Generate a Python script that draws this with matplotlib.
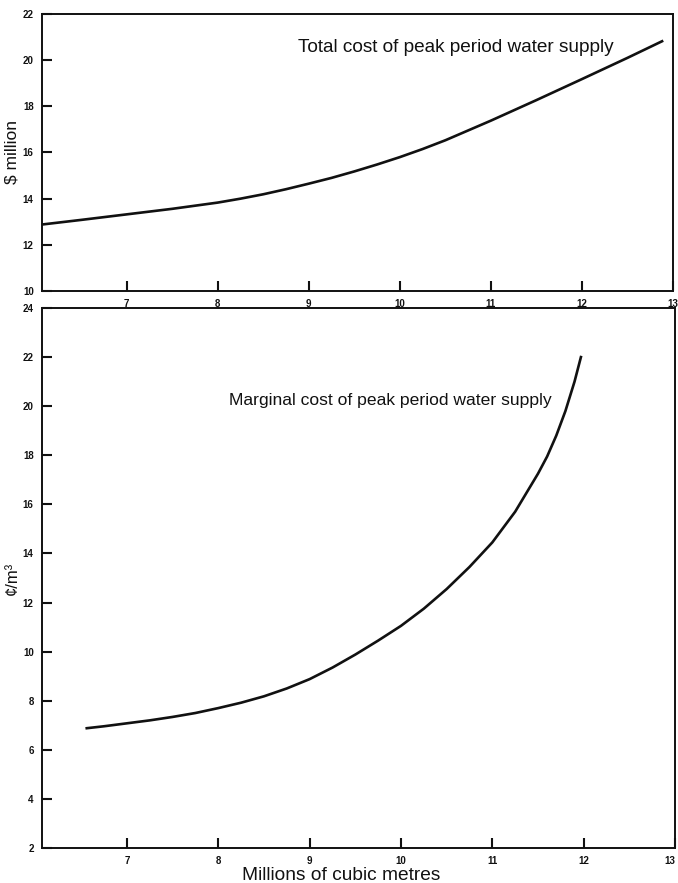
import matplotlib.pyplot as plt

# Values
x_total = [6.07, 6.5, 7.0, 7.5, 8.0, 8.25, 8.5, 8.75, 9.0, 9.25, 9.5, 9.75, 10.0,
           10.25, 10.5, 11.0, 11.5, 12.0, 12.5, 12.88]
y_total = [12.88, 13.08, 13.32, 13.56, 13.83, 14.0, 14.19, 14.41, 14.65, 14.9, 15.18,
           15.48, 15.8, 16.15, 16.53, 17.38, 18.27, 19.18, 20.1, 20.82]

x_marginal = [6.56, 6.75, 7.0, 7.25, 7.5, 7.75, 8.0, 8.25, 8.5, 8.75, 9.0, 9.25, 9.5,
              9.75, 10.0, 10.25, 10.5, 10.75, 11.0, 11.25, 11.5, 11.6, 11.7, 11.8,
              11.9, 11.97]
y_marginal = [6.88, 6.96, 7.08, 7.2, 7.34, 7.5, 7.7, 7.92, 8.18, 8.5, 8.88, 9.35, 9.88,
              10.45, 11.05, 11.75, 12.55, 13.45, 14.45, 15.7, 17.25, 17.95, 18.8, 19.8,
              21.0, 22.0]

x_ticks = [7, 8, 9, 10, 11, 12, 13]
top_yticks = [10, 12, 14, 16, 18, 20, 22]
bottom_yticks = [2, 4, 6, 8, 10, 12, 14, 16, 18, 20, 22, 24]

label_font = ['Liberation Sans', 'DejaVu Sans']
tick_font = ['Liberation Sans Narrow', 'Liberation Sans', 'DejaVu Sans']

W, H = 678, 883
fig = plt.figure(figsize=(W / 100, H / 100), dpi=100)

ax1 = fig.add_axes([42 / W, 1 - 291 / H, (673 - 42) / W, (291 - 14) / H])
ax2 = fig.add_axes([42 / W, 1 - 848 / H, (675 - 42) / W, (848 - 308) / H])

ax1.plot(x_total, y_total, color='#111111', lw=1.9, solid_joinstyle='round')
ax2.plot(x_marginal, y_marginal, color='#111111', lw=1.9, solid_joinstyle='round')

for ax, yt in [(ax1, top_yticks), (ax2, bottom_yticks)]:
    ax.set_xlim(6.07, 13.0)
    ax.set_ylim(yt[0], yt[-1])
    ax.set_xticks(x_ticks)
    ax.set_yticks(yt)
    ax.tick_params(direction='in', length=7, width=1.5, pad=6, colors='#111111')
    for lab in ax.get_xticklabels() + ax.get_yticklabels():
        lab.set_family(tick_font)
        lab.set_fontweight('bold')
        lab.set_fontsize(7)
    for sp in ax.spines.values():
        sp.set_linewidth(1.4)
        sp.set_color('#111111')

# last x label of the lower panel sits at the page edge
ax2.get_xticklabels()[-1].set_horizontalalignment('right')

ax1.text(8.88, 20.57, 'Total cost of peak period water supply',
         family=label_font, fontsize=13.7, va='center', ha='left', color='#111111')
ax2.text(8.12, 20.25, 'Marginal cost of peak period water supply',
         family=label_font, fontsize=12.6, va='center', ha='left', color='#111111')

fig.text(12 / W, 1 - 152 / H, '$ million', rotation=90, family=label_font,
         fontsize=12.5, ha='center', va='center', color='#111111')
fig.text(12 / W, 1 - 578 / H, '¢/m³', rotation=90, family=label_font,
         fontsize=12, ha='center', va='center', color='#111111')
fig.text(341 / W, 1 - 875 / H, 'Millions of cubic metres', family=label_font,
         fontsize=13.8, ha='center', va='center', color='#111111')

fig.savefig('out.png', dpi=100, facecolor='white')
